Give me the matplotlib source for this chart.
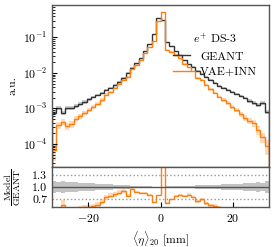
import numpy as np
import matplotlib
matplotlib.use("Agg")
import matplotlib.pyplot as plt
from matplotlib.lines import Line2D

# ---- data ----
bin_lo, bin_hi, n_bins = -30.0, 30.0, 50
n_events = 50000  # assumed sample size used for the statistical bands

geant = [7.47e-4, 1.03e-3, 7.47e-4, 1.03e-3, 1.03e-3, 1.18e-3, 1.34e-3, 1.53e-3, 1.85e-3, 2.11e-3,
         2.40e-3, 2.73e-3, 3.32e-3, 3.78e-3, 4.59e-3, 5.58e-3, 7.23e-3, 1.00e-2, 1.38e-2, 1.91e-2,
         2.65e-2, 4.17e-2, 6.56e-2, 0.1255, 0.354, 0.311, 0.0747, 0.0576, 0.0417, 0.0321,
         0.0232, 0.0179, 0.0148, 0.0114, 9.37e-3, 7.72e-3, 6.35e-3, 5.23e-3, 4.30e-3, 3.78e-3,
         3.32e-3, 2.92e-3, 2.56e-3, 2.25e-3, 1.98e-3, 1.63e-3, 1.43e-3, 1.25e-3, 1.43e-3, 7.97e-4]

vae_inn = [6.78e-5, 3.43e-4, 4.17e-4, 3.21e-4, 3.66e-4, 5.06e-4, 6.15e-4, 7.47e-4, 9.07e-4, 1.10e-3,
           1.34e-3, 1.74e-3, 2.46e-3, 2.95e-3, 3.73e-3, 4.81e-3, 6.52e-3, 7.82e-3, 1.31e-2, 1.68e-2,
           2.28e-2, 3.54e-2, 5.26e-2, 7.77e-2, 0.284, 0.523, 0.0456, 0.0398, 0.0326, 0.0259,
           0.0182, 0.0145, 0.0110, 7.28e-3, 6.48e-3, 4.56e-3, 3.43e-3, 2.73e-3, 2.11e-3, 1.74e-3,
           1.43e-3, 1.10e-3, 9.07e-4, 7.00e-4, 5.40e-4, 4.44e-4, 3.90e-4, 2.48e-4, 1.58e-4, 8.78e-5]

legend_title = r"$e^{+}$ DS-3"
labels = ["GEANT", "VAE+INN"]
ratio_ticks = [0.7, 1.0, 1.3]
x_ticks = [-20, 0, 20]

# ---- style ----
plt.rcParams.update({
    "font.family": "cmr10",
    "mathtext.fontset": "cm",
    "axes.formatter.use_mathtext": True,
    "font.size": 8.5,
    "axes.unicode_minus": True,
})

c_geant = "#333333"
c_vae = "#ff7f0e"
spine_c = "#555555"

edges = np.linspace(bin_lo, bin_hi, n_bins + 1)
width = edges[1] - edges[0]
g = np.array(geant)
v = np.array(vae_inn)
g_rel = 1.0 / np.sqrt(g * width * n_events)
v_rel = 1.0 / np.sqrt(v * width * n_events)

fig = plt.figure(figsize=(2.74, 2.47), dpi=100)
W, H = 274, 247
ax = fig.add_axes([52 / W, 1 - 167 / H, 217 / W, 162 / H])
rax = fig.add_axes([52 / W, 1 - 207 / H, 217 / W, 40 / H], sharex=ax)

# main panel
ax.stairs(g * (1 + g_rel), edges, baseline=g * np.clip(1 - g_rel, 0.05, None), fill=True,
          color=c_geant, alpha=0.25, lw=0)
ax.stairs(v * (1 + v_rel), edges, baseline=v * np.clip(1 - v_rel, 0.05, None), fill=True,
          color=c_vae, alpha=0.3, lw=0)
ax.stairs(g, edges, color=c_geant, lw=1.0)
ax.stairs(v, edges, color=c_vae, lw=1.0)
ax.set_yscale("log")
ax.set_ylim(2.25e-5, 0.82)
ax.set_xlim(bin_lo, bin_hi)
ax.set_ylabel("a.u.")
ax.yaxis.set_label_coords(-0.16, 0.5)
ax.tick_params(axis="y", which="both", direction="in", left=True, right=False)
ax.tick_params(axis="y", which="major", length=3.5)
ax.tick_params(axis="y", which="minor", length=2)
ax.tick_params(axis="x", which="both", bottom=False, labelbottom=False)
handles = [Line2D([], [], color=c_geant, lw=1.0), Line2D([], [], color=c_vae, lw=1.0)]
leg = ax.legend(handles, labels, title=legend_title, frameon=False, loc="upper right",
                bbox_to_anchor=(0.945, 0.835), borderpad=0, borderaxespad=0,
                handlelength=1.5, handletextpad=0.8, labelspacing=0.45, fontsize=8.5,
                title_fontsize=8.5)

# ratio panel
ratio = v / g
rax.stairs(ratio * (1 + v_rel), edges, baseline=ratio * (1 - v_rel), fill=True,
           color=c_vae, alpha=0.3, lw=0)
rax.stairs(1 + g_rel, edges, baseline=1 - g_rel, fill=True, color="#888888", alpha=0.5, lw=0)
rax.axhline(1.0, color="#555555", lw=1.0)
for t in (ratio_ticks[0], ratio_ticks[2]):
    rax.axhline(t, color="#999999", lw=1.0, ls=":")
rax.stairs(ratio, edges, color=c_vae, lw=1.0)
rax.set_ylim(0.5, 1.5)
rax.set_yticks(ratio_ticks)
rax.set_yticklabels([f"{t:.1f}" for t in ratio_ticks])
rax.set_xticks(x_ticks)
rax.tick_params(axis="both", which="both", direction="in")
rax.tick_params(axis="y", length=0)
rax.set_ylabel(r"$\dfrac{\mathrm{Model}}{\mathrm{GEANT}}$", fontsize=7)
rax.yaxis.set_label_coords(-0.135, 0.5)
rax.set_xlabel(r"$\langle\eta\rangle_{20}$ [mm]")

for a in (ax, rax):
    for s in a.spines.values():
        s.set_color(spine_c)
        s.set_linewidth(1.0)

fig.savefig("out.png", dpi=100)
